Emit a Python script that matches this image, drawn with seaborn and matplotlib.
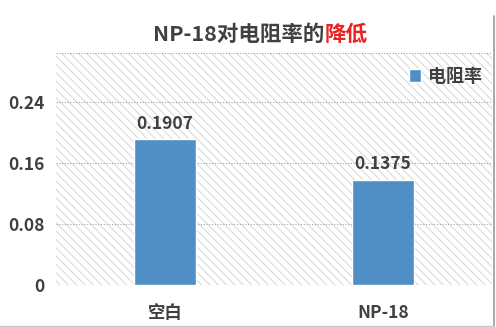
import matplotlib
matplotlib.use("Agg")
import matplotlib.pyplot as plt
import seaborn as sns
import pandas as pd
from matplotlib.patches import Rectangle
from matplotlib.lines import Line2D

categories = ["空白", "NP-18"]
values = [0.1907, 0.1375]
yticks = [0, 0.08, 0.16, 0.24]
ytick_labels = ["0", "0.08", "0.16", "0.24"]
series_name = "电阻率"

sns.set_theme(style="white")
plt.rcParams['font.family'] = ['Noto Sans CJK SC', 'DejaVu Sans']
plt.rcParams['hatch.linewidth'] = 0.7
plt.rcParams['hatch.color'] = '#d6d6d6'

bar_color = "#4f8fc6"
text_color = "#404040"

df = pd.DataFrame({"cat": categories, "val": values})

fig = plt.figure(figsize=(4.96, 3.27), dpi=100)
ax = fig.add_axes([56/496, 42/327, 436/496, 232/327])

ax.add_patch(Rectangle((0, 0), 1, 1, transform=ax.transAxes, facecolor="white",
                       edgecolor="#d6d6d6", hatch="\\\\\\\\", lw=0, zorder=0))

sns.barplot(data=df, x="cat", y="val", color=bar_color, width=0.28, ax=ax,
            saturation=1, zorder=3, label=series_name)

ax.set_xlim(-0.5, 1.5)
ax.set_ylim(0, 0.304)
ax.set_yticks(yticks)
ax.set_yticklabels(ytick_labels)
for y in yticks[1:]:
    ax.axhline(y, color="#a6a6a6", lw=0.8, ls=(0, (1, 1.5)), zorder=1)
ax.axhline(0.304, color="#a6a6a6", lw=0.8, ls=(0, (1, 1.5)), zorder=1, clip_on=False)

for s in ax.spines.values():
    s.set_visible(False)
ax.set_xlabel("")
ax.set_ylabel("")
ax.tick_params(axis="both", length=0, labelsize=12.5, colors=text_color)
ax.tick_params(axis="x", pad=14)
ax.tick_params(axis="y", pad=8)
for lab in ax.get_xticklabels() + ax.get_yticklabels():
    lab.set_fontweight("bold")

for i, v in enumerate(values):
    ax.text(i, v + 0.009, f"{v:.4f}", ha="center", va="bottom", fontsize=12.5,
            fontweight="bold", color=text_color)

handle = Rectangle((0, 0), 1, 1, facecolor=bar_color)
leg = ax.legend([handle], [series_name], loc="center right", bbox_to_anchor=(0.978, 0.90),
                frameon=False, handlelength=0.7, handleheight=0.7, handletextpad=0.4,
                borderpad=0, borderaxespad=0, prop={"weight": "bold", "size": 13})
for t in leg.get_texts():
    t.set_color(text_color)

# title with two colors
fs = 15.5
t1 = fig.text(0.5, 0.895, "NP-18对电阻率的", ha="right", va="center", fontsize=fs,
              fontweight="bold", color=text_color)
fig.canvas.draw()
bb = t1.get_window_extent()
x_end = bb.x1 / fig.bbox.width
fig.text(x_end, 0.895, "降低", ha="left", va="center", fontsize=fs,
         fontweight="bold", color="#e8231f")
fig.canvas.draw()
bb2 = fig.texts[1].get_window_extent()
total_w = (bb2.x1 - bb.x0) / fig.bbox.width
center = 260 / 496
shift = center - ((bb.x0 / fig.bbox.width) + total_w / 2)
for t in fig.texts:
    x, y = t.get_position()
    t.set_position((x + shift, y))

# frame lines
fig.add_artist(Line2D([494/496, 494/496], [0, 1 - 16/327], color="#9a9a9a", lw=1.2))
fig.add_artist(Line2D([0, 494/496], [1/327, 1/327], color="#c8c8c8", lw=1.0))

fig.savefig("out.png", dpi=100)
